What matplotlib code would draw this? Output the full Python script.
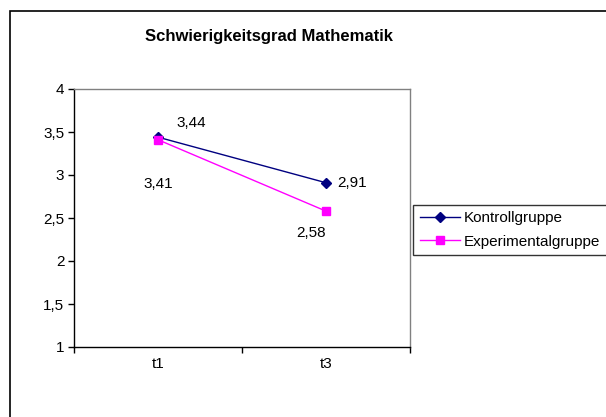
import matplotlib
matplotlib.use("Agg")
import matplotlib.pyplot as plt
from matplotlib.patches import Rectangle

plt.rcParams['font.family'] = ['Liberation Sans', 'DejaVu Sans']

categories = ['t1', 't3']
kontroll = [3.44, 2.91]
experimental = [3.41, 2.58]
kontroll_labels = ['3,44', '2,91']
experimental_labels = ['3,41', '2,58']
yticks = [1, 1.5, 2, 2.5, 3, 3.5, 4]
ytick_labels = ['1', '1,5', '2', '2,5', '3', '3,5', '4']

fig = plt.figure(figsize=(6.06, 4.17), dpi=100)
fig.patch.set_facecolor('white')

# outer chart frame (runs off the right and bottom edges)
fig.patches.append(Rectangle((10 / 606, -0.2), 1.2, 1.2 - 11 / 417,
                             transform=fig.transFigure, fill=False,
                             edgecolor='black', linewidth=1.2))

ax = fig.add_axes([74 / 606, 1 - 347 / 417, 336 / 606, 258 / 417])

x = [i + 0.5 for i in range(len(categories))]
ax.plot(x, kontroll, color='#000080', marker='D', markersize=5, linewidth=1,
        label='Kontrollgruppe')
ax.plot(x, experimental, color='#FF00FF', marker='s', markersize=6, linewidth=1,
        label='Experimentalgruppe')

# data labels
offsets_k = [(24, 10), (19, 0)]
offsets_e = [(0, -32), (-11, -16)]
for xi, v, lab, off in zip(x, kontroll, kontroll_labels, offsets_k):
    ax.annotate(lab, (xi, v), xytext=off, textcoords='offset points',
                ha='center', va='center', fontsize=11)
for xi, v, lab, off in zip(x, experimental, experimental_labels, offsets_e):
    ax.annotate(lab, (xi, v), xytext=off, textcoords='offset points',
                ha='center', va='center', fontsize=11)

ax.set_xlim(0, len(categories))
ax.set_ylim(1, 4)
ax.set_yticks(yticks)
ax.set_yticklabels(ytick_labels, fontsize=11)
ax.set_xticks(range(len(categories) + 1))
ax.set_xticklabels([])
ax.set_xticks(x, minor=True)
ax.set_xticklabels(categories, minor=True, fontsize=11)
ax.tick_params(axis='x', which='minor', length=0, pad=7)
ax.tick_params(axis='both', which='major', direction='out', length=4, width=1)
ax.tick_params(axis='y', pad=3)

ax.spines['left'].set_color('black')
ax.spines['bottom'].set_color('black')
ax.spines['top'].set_color('#808080')
ax.spines['right'].set_color('#808080')
for s in ax.spines.values():
    s.set_linewidth(1)

fig.text(269 / 606, 1 - 36 / 417, 'Schwierigkeitsgrad Mathematik',
         ha='center', va='center', fontsize=12, fontweight='bold')

leg = fig.legend(loc='center left', bbox_to_anchor=(413 / 606, 1 - 230 / 417),
                 fontsize=11, frameon=True, fancybox=False, borderpad=0.45,
                 handlelength=2.6, handletextpad=0.25, labelspacing=0.6,
                 borderaxespad=0)
leg.get_frame().set_edgecolor('black')
leg.get_frame().set_linewidth(1)

fig.savefig('out.png', dpi=100, facecolor='white')
